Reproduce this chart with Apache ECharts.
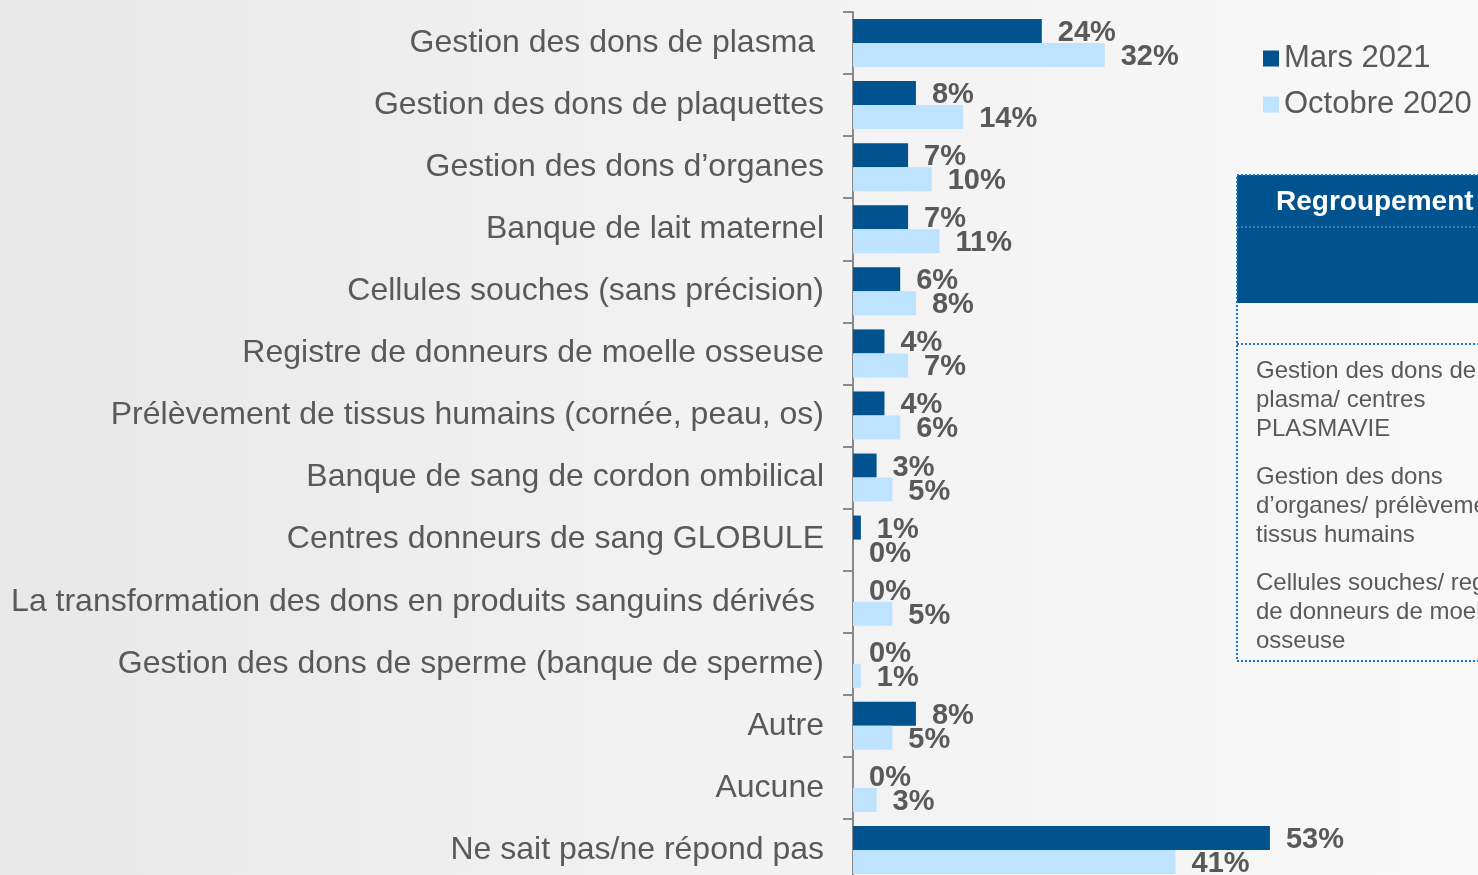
<!DOCTYPE html>
<html>
<head>
<meta charset="utf-8">
<script src="https://cdn.jsdelivr.net/npm/echarts@6/dist/echarts.min.js"></script>
<style>
  html, body { margin: 0; padding: 0; }
  #chart { width: 1478px; height: 875px; }
</style>
</head>
<body>
<div id="chart"></div>
<script>
// categories from top to bottom
const categories = [
  "Gestion des dons de plasma ",
  "Gestion des dons de plaquettes",
  "Gestion des dons d’organes",
  "Banque de lait maternel",
  "Cellules souches (sans précision)",
  "Registre de donneurs de moelle osseuse",
  "Prélèvement de tissus humains (cornée, peau, os)",
  "Banque de sang de cordon ombilical",
  "Centres donneurs de sang GLOBULE",
  "La transformation des dons en produits sanguins dérivés ",
  "Gestion des dons de sperme (banque de sperme)",
  "Autre",
  "Aucune",
  "Ne sait pas/ne répond pas"
];
const mars2021 = [24, 8, 7, 7, 6, 4, 4, 3, 1, 0, 0, 8, 0, 53];
const octobre2020 = [32, 14, 10, 11, 8, 7, 6, 5, 0, 5, 1, 5, 3, 41];

const boxTitle = "Regroupement";
const boxLines = [
  ["Gestion des dons de", "plasma/ centres", "PLASMAVIE"],
  ["Gestion des dons", "d’organes/ prélèvement de", "tissus humains"],
  ["Cellules souches/ registre", "de donneurs de moelle", "osseuse"]
];

const FONT = "Liberation Sans, Arial, sans-serif";
const GRAY = "#595959";

const chart = echarts.init(document.getElementById("chart"));

// side box, drawn with graphic elements
const boxGraphics = [
  {
    type: "rect",
    shape: { x: 1237, y: 175, width: 260, height: 128 },
    style: { fill: "#00538E" },
    silent: true
  },
  {
    type: "line",
    shape: { x1: 1237, y1: 227, x2: 1490, y2: 227 },
    style: { stroke: "#2A7FC8", lineWidth: 2, lineDash: [2, 2] },
    silent: true
  },
  {
    type: "line",
    shape: { x1: 1237, y1: 344, x2: 1490, y2: 344 },
    style: { stroke: "#1A73C4", lineWidth: 2, lineDash: [2, 2] },
    silent: true
  },
  {
    type: "rect",
    shape: { x: 1237, y: 175, width: 260, height: 486 },
    style: { fill: "none", stroke: "#1A73C4", lineWidth: 2, lineDash: [2, 2] },
    silent: true
  },
  {
    type: "text",
    left: 1276,
    top: 188,
    style: {
      text: boxTitle,
      font: "bold 28px " + FONT,
      fill: "#ffffff"
    },
    silent: true
  }
];
boxLines.forEach((lines, i) => {
  boxGraphics.push({
    type: "text",
    left: 1256,
    top: 357 + i * 106,
    style: {
      text: lines.join("\n"),
      font: "24px " + FONT,
      lineHeight: 29,
      fill: GRAY
    },
    silent: true
  });
});

const valueLabel = {
  show: true,
  position: "right",
  distance: 16,
  offset: [0, 2],
  formatter: "{c}%",
  fontSize: 29,
  fontWeight: "bold",
  color: GRAY
};

chart.setOption({
  animation: false,
  backgroundColor: {
    type: "linear",
    x: 0, y: 0, x2: 1, y2: 0,
    colorStops: [
      { offset: 0, color: "#e8e8e8" },
      { offset: 0.5, color: "#f2f2f2" },
      { offset: 1, color: "#f8f8f8" }
    ]
  },
  textStyle: { fontFamily: FONT },
  legend: {
    orient: "vertical",
    left: 1263,
    top: 43,
    icon: "rect",
    itemWidth: 16,
    itemHeight: 16,
    itemGap: 15,
    padding: 0,
    textStyle: { fontSize: 31, color: GRAY, lineHeight: 31 },
    data: ["Mars 2021", "Octobre 2020"]
  },
  grid: {
    left: 853,
    top: 12,
    width: 472,
    height: 869,
    outerBoundsMode: "none"
  },
  xAxis: {
    type: "value",
    min: 0,
    max: 60,
    show: false
  },
  yAxis: {
    type: "category",
    inverse: true,
    data: categories,
    axisLine: { show: true, lineStyle: { color: "#8a8a8a", width: 2 } },
    axisTick: { show: true, length: 10, lineStyle: { color: "#8a8a8a", width: 2 } },
    axisLabel: { fontSize: 32, color: GRAY, margin: 29, fontFamily: FONT }
  },
  series: [
    {
      name: "Mars 2021",
      type: "bar",
      data: mars2021,
      barWidth: 24,
      barGap: "0%",
      itemStyle: { color: "#00538E" },
      label: valueLabel
    },
    {
      name: "Octobre 2020",
      type: "bar",
      data: octobre2020,
      barWidth: 24,
      itemStyle: { color: "#BEE3FE" },
      label: valueLabel
    }
  ],
  graphic: boxGraphics
});
</script>
</body>
</html>
